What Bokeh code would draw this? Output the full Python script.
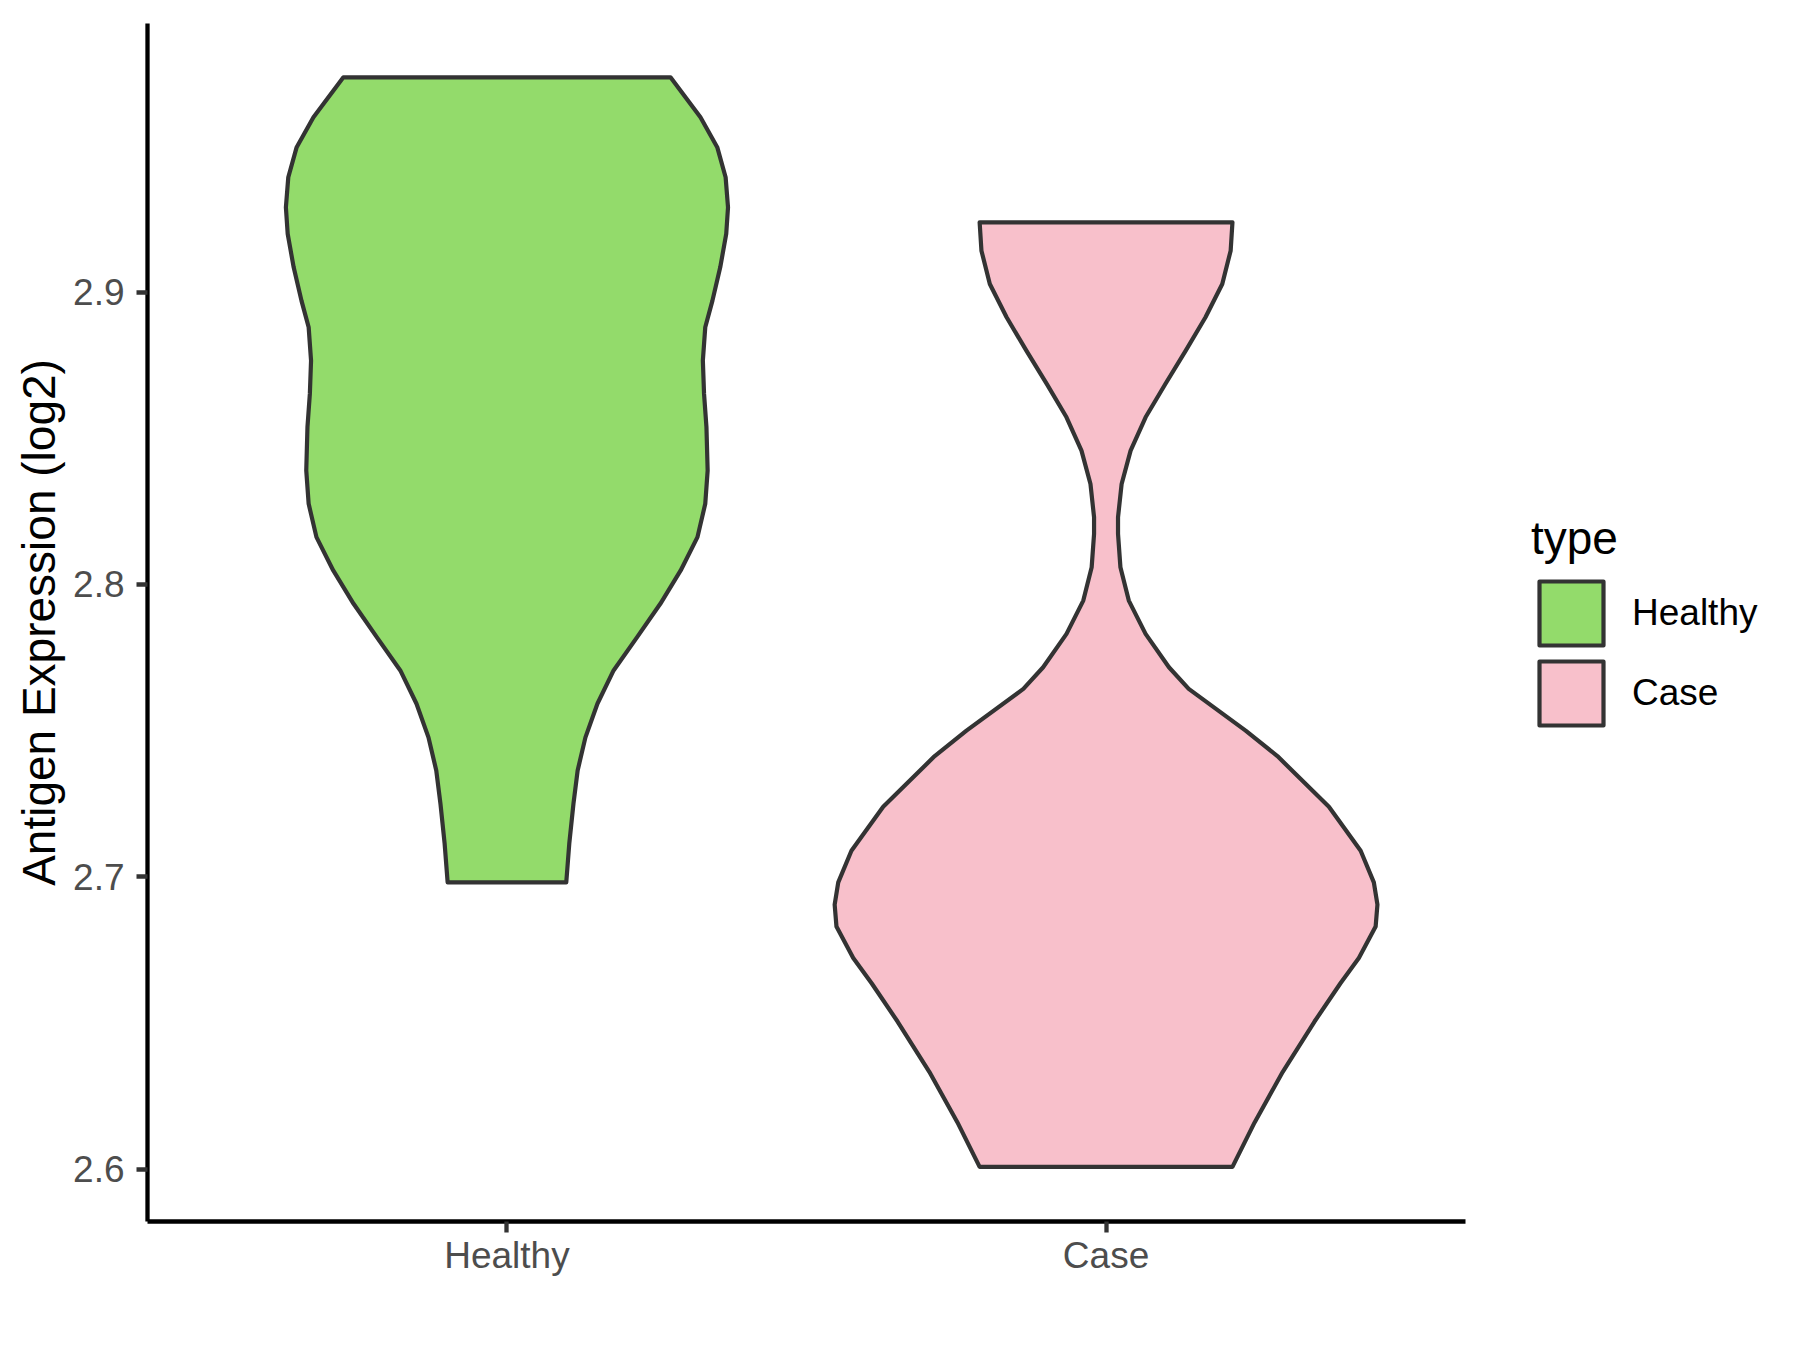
from bokeh.plotting import figure
from bokeh.models import Range1d, FixedTicker, Legend, LegendItem
from bokeh.embed import file_html
from bokeh.resources import INLINE

# ---- data ----
categories = ["Healthy", "Case"]
fill_colors = ["#93DB6B", "#F8C0CB"]

# violin profile: y level and half-width (category units)
healthy_y = [2.6981, 2.7113, 2.7250, 2.7364, 2.7477, 2.7592, 2.7706, 2.7819, 2.7934,
             2.8048, 2.8162, 2.8276, 2.8390, 2.8538, 2.8652, 2.8766, 2.8880, 2.8971,
             2.9085, 2.9199, 2.9290, 2.9393, 2.9496, 2.9598, 2.9735]
healthy_hw = [0.099, 0.104, 0.111, 0.118, 0.131, 0.151, 0.178, 0.217, 0.256,
              0.290, 0.318, 0.331, 0.335, 0.333, 0.329, 0.327, 0.331, 0.343,
              0.356, 0.366, 0.369, 0.365, 0.351, 0.323, 0.273]

case_y = [2.6008, 2.6160, 2.6333, 2.6505, 2.6635, 2.6722, 2.6830, 2.6905, 2.6981,
          2.7089, 2.7240, 2.7413, 2.7500, 2.7643, 2.7717, 2.7831, 2.7945, 2.8059,
          2.8173, 2.8230, 2.8344, 2.8458, 2.8572, 2.8686, 2.8800, 2.8914, 2.9028,
          2.9142, 2.9239]
case_hw = [0.211, 0.248, 0.295, 0.348, 0.391, 0.422, 0.450, 0.453, 0.447,
           0.425, 0.372, 0.286, 0.233, 0.138, 0.105, 0.066, 0.038, 0.024,
           0.020, 0.020, 0.026, 0.041, 0.066, 0.099, 0.133, 0.166, 0.194,
           0.208, 0.211]

y_ticks = [2.6, 2.7, 2.8, 2.9]
y_tick_labels = ["2.6", "2.7", "2.8", "2.9"]

FONT = "Liberation Sans"

p = figure(output_backend="svg", toolbar_location=None,
           frame_width=1318, frame_height=1198,
           min_border_left=147, min_border_right=327,
           min_border_top=23, min_border_bottom=113,
           x_range=Range1d(0.4, 2.6), y_range=Range1d(2.5821, 2.9919))
p.outline_line_color = None
p.background_fill_color = "white"
p.border_fill_color = "white"
p.xgrid.visible = False
p.ygrid.visible = False

profiles = [(healthy_y, healthy_hw), (case_y, case_hw)]
items = []
for i, (cat, (ys, hws)) in enumerate(zip(categories, profiles)):
    c = i + 1
    xs = [c + h for h in hws] + [c - h for h in reversed(hws)]
    yy = list(ys) + list(reversed(ys))
    r = p.patch(xs, yy, fill_color=fill_colors[i], line_color="#333333",
                line_width=4.2, line_join="round")
    items.append(LegendItem(label=cat, renderers=[r]))

# axes
for ax in (p.xaxis[0], p.yaxis[0]):
    ax.axis_line_color = "black"
    ax.axis_line_width = 4.3
    ax.major_tick_line_color = "#333333"
    ax.major_tick_line_width = 4.3
    ax.major_tick_out = 11
    ax.major_tick_in = 0
    ax.minor_tick_line_color = None
    ax.major_label_text_font = FONT
    ax.major_label_text_font_size = "37px"
    ax.major_label_text_color = "#4D4D4D"

p.xaxis.ticker = FixedTicker(ticks=[1, 2])
p.xaxis.major_label_overrides = {1: categories[0], 2: categories[1]}
p.xaxis.major_label_standoff = 2

p.yaxis.ticker = FixedTicker(ticks=y_ticks)
p.yaxis.major_label_overrides = {t: l for t, l in zip(y_ticks, y_tick_labels)}
p.yaxis.major_label_standoff = 12
p.yaxis.axis_label = "Antigen Expression (log2)"
p.yaxis.axis_label_text_font = FONT
p.yaxis.axis_label_text_font_size = "46px"
p.yaxis.axis_label_text_font_style = "normal"
p.yaxis.axis_label_text_color = "black"
p.yaxis.axis_label_standoff = 5

legend = Legend(items=items, location=(66, 488), title="type",
                title_text_font=FONT, title_text_font_size="46px",
                title_text_color="black", title_text_font_style="normal",
                title_standoff=8,
                label_text_font=FONT, label_text_font_size="37px",
                label_text_color="black",
                glyph_width=80, glyph_height=80, spacing=0,
                label_standoff=21, padding=0, margin=0,
                border_line_color=None, background_fill_alpha=0)
p.add_layout(legend, "right")

open("out.html", "w").write(file_html(p, INLINE))
